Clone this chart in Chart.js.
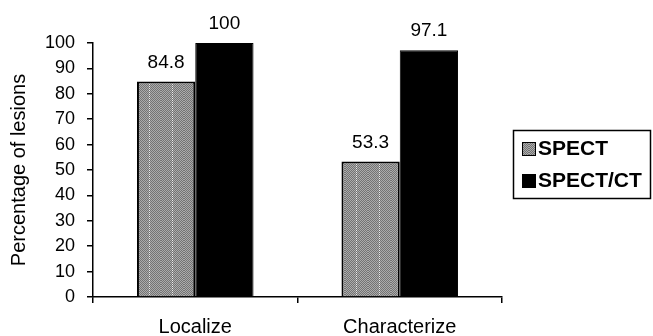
<!DOCTYPE html>
<html>
<head>
<meta charset="utf-8">
<script src="https://cdn.jsdelivr.net/npm/chart.js@4.4.0/dist/chart.umd.min.js"></script>
<style>
  body { margin: 0; background: #fff; }
  #wrap { width: 653px; height: 336px; }
</style>
</head>
<body>
<div id="wrap"><canvas id="grafico"></canvas></div>
<script>
var categorias = ["Localize", "Characterize"];
var nomesSeries = ["SPECT", "SPECT/CT"];
var valoresSPECT = [84.8, 53.3];
var valoresSPECTCT = [100, 97.1];
var ticksY = [0, 10, 20, 30, 40, 50, 60, 70, 80, 90, 100];

var fonte = "'Liberation Sans', Arial, sans-serif";

// textura cinza do SPECT (pontilhado fino com linhas verticais claras)
function criaPadrao() {
    var c = document.createElement("canvas");
    c.width = 23; c.height = 2;
    var g = c.getContext("2d");
    for (var x = 0; x < 23; x++) {
        for (var y = 0; y < 2; y++) {
            g.fillStyle = ((x + y) % 2 == 0) ? "#737373" : "#ababab";
            if (x == 11 && y == 0) g.fillStyle = "#ececec";
            g.fillRect(x, y, 1, 1);
        }
    }
    return g.createPattern(c, "repeat");
}
var padrao = criaPadrao();

var rotulosBarras = {
    id: "rotulosBarras",
    afterDatasetsDraw: function(chart) {
        var ctx = chart.ctx;
        ctx.save();
        ctx.font = "19px " + fonte;
        ctx.fillStyle = "#000";
        ctx.textAlign = "center";
        ctx.textBaseline = "alphabetic";
        chart.data.datasets.forEach(function(ds, i) {
            chart.getDatasetMeta(i).data.forEach(function(bar, j) {
                ctx.fillText(String(ds.data[j]), bar.x, bar.y - 14);
            });
        });
        ctx.restore();
    }
};

var legendaCaixa = {
    id: "legendaCaixa",
    afterDraw: function(chart) {
        var ctx = chart.ctx;
        var x0 = 513, y0 = 130, w = 137, h = 68;
        ctx.save();
        ctx.lineWidth = 1.5;
        ctx.strokeStyle = "#000";
        ctx.strokeRect(x0 + 0.5, y0 + 0.5, w, h);
        ctx.font = "bold 21px " + fonte;
        ctx.textBaseline = "middle";
        ctx.textAlign = "left";
        chart.data.datasets.forEach(function(ds, i) {
            var cy = y0 + 18 + i * 32;
            ctx.fillStyle = ds.backgroundColor;
            ctx.fillRect(x0 + 9, cy - 6, 14, 14);
            ctx.lineWidth = 1;
            ctx.strokeRect(x0 + 9.5, cy - 5.5, 13, 13);
            ctx.fillStyle = "#000";
            ctx.fillText(ds.label, x0 + 25, cy + 1);
        });
        ctx.restore();
    }
};

var myChart = new Chart(document.getElementById("grafico"), {
    type: "bar",
    data: {
        labels: categorias,
        datasets: [{
            label: nomesSeries[0],
            data: valoresSPECT,
            backgroundColor: padrao,
            borderColor: "#000",
            borderWidth: 2,
            borderSkipped: "bottom"
        }, {
            label: nomesSeries[1],
            data: valoresSPECTCT,
            backgroundColor: "#000",
            borderColor: "#000",
            borderWidth: 1
        }]
    },
    options: {
        responsive: true,
        maintainAspectRatio: false,
        animation: false,
        layout: { padding: { left: 0, top: 43, right: 151, bottom: 0 } },
        plugins: {
            legend: { display: false },
            tooltip: { enabled: false }
        },
        datasets: {
            bar: { barPercentage: 1.0, categoryPercentage: 0.57 }
        },
        scales: {
            x: {
                afterFit: function(axis) { axis.height = 39; },
                grid: { display: true, drawOnChartArea: false, offset: true, color: "#000", tickLength: 6, lineWidth: 1.5 },
                border: { display: true, color: "#000", width: 1.5 },
                ticks: { color: "#000", font: { size: 20, family: fonte }, padding: 12 }
            },
            y: {
                min: 0,
                max: 100,
                afterFit: function(axis) { axis.width = 93; },
                afterBuildTicks: function(axis) {
                    axis.ticks = ticksY.map(function(v) { return { value: v }; });
                },
                grid: { display: true, drawOnChartArea: false, color: "#000", tickLength: 6, lineWidth: 1.5 },
                border: { display: true, color: "#000", width: 1.5 },
                ticks: { color: "#000", font: { size: 18, family: fonte }, padding: 12 },
                title: {
                    display: true,
                    text: "Percentage of lesions",
                    color: "#000",
                    font: { size: 20, family: fonte },
                    padding: { top: 7, bottom: 0 }
                }
            }
        }
    },
    plugins: [rotulosBarras, legendaCaixa]
});
</script>
</body>
</html>
